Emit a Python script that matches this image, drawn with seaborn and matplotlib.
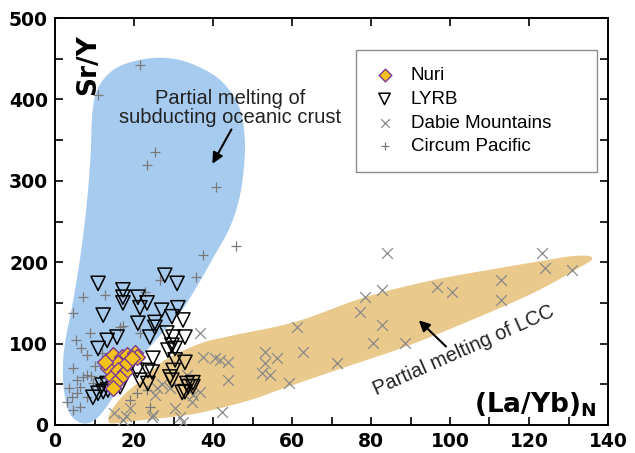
import numpy as np
import matplotlib
matplotlib.use("Agg")
import matplotlib.pyplot as plt
import seaborn as sns
from matplotlib.ticker import MultipleLocator

# Nuri samples
nuri_x = [14.7, 17.0, 18.3, 20.3, 20.8, 16.0, 13.4, 14.4, 16.0, 17.7, 16.5, 15.2, 14.7, 18.2, 19.5, 12.7]
nuri_y = [86, 84, 86, 89, 84, 76, 70, 59, 67, 65, 58, 51, 45, 76, 82, 77]

# LYRB samples
lyrb_x = [10.9, 17.2, 17.2, 17.2, 21.0, 21.5, 23.3, 27.8, 30.9, 12.2, 21.0, 27.0, 31.1, 25.3,
          29.6, 32.4, 25.3, 28.3, 29.9, 32.9, 15.7, 13.2, 24.0, 10.9, 29.6, 30.4, 28.6, 24.8,
          30.4, 32.9, 20.8, 23.5, 29.9, 21.5, 29.6, 23.5, 33.4, 32.9, 34.9, 9.6, 10.9, 12.2,
          13.4, 14.7, 13.2, 11.9, 16.5, 18.5, 24.6, 29.1, 33.7, 32.2, 34.9]
lyrb_y = [174, 166, 157, 150, 157, 144, 150, 184, 174, 135, 125, 141, 144, 126,
          133, 129, 120, 113, 108, 108, 108, 104, 108, 94, 98, 94, 92, 82,
          80, 77, 67, 67, 67, 55, 55, 51, 51, 41, 47, 34, 39, 41,
          43, 45, 51, 49, 47, 67, 65, 59, 47, 40, 52]

# Dabie Mountains samples
dabie_x = [84, 123.3, 124, 131, 113, 113, 100.5, 96.7, 82.8, 78.5, 77.2, 82.8, 80.5, 88.6,
           71.4, 61.3, 62.8, 59.2, 53.2, 56.2, 53.2, 52.4, 54.4, 43.8, 43.8, 40.5, 41.8, 37.5,
           36.7, 42.3, 36.7, 33.4, 25.8, 25.3, 30.4, 24.8, 32.4, 35, 34.7, 15, 17.2, 19, 18,
           24.6, 31.6, 27, 29]
dabie_y = [211, 211, 193, 190, 178, 153, 163, 169, 166, 157, 139, 123, 101, 101,
           76, 121, 90, 52, 90, 82, 76, 64, 61, 77, 55, 82, 80, 83,
           40, 16, 113, 61, 45, 37, 21, 12, 4, 37, 28, 15, 6, 21, 11,
           10, 10, 50, 45]

# Circum Pacific samples
cp_x = [21.5, 10.9, 25.3, 23.3, 40.8, 45.8, 37.5, 35.7, 26.6, 22.8, 12.7, 7.1, 4.6, 8.9,
        5.3, 16.5, 17.2, 21.5, 8.1, 4.6, 5.6, 7.0, 8.0, 6.3, 9.6, 4.3, 6.3, 4.6, 5.6, 8.0,
        11.4, 20.8, 23.3, 19.0, 24.0, 3.5, 10.0, 12.0, 6.5, 9.0, 3.0]
cp_y = [442, 406, 335, 319, 292, 220, 209, 182, 178, 163, 160, 157, 137, 113,
        104, 120, 122, 113, 86, 70, 55, 59, 62, 47, 51, 34, 22, 18, 39, 34,
        51, 39, 43, 31, 22, 45, 72, 88, 95, 60, 28]

# field outlines (data units)
slab_x = [7, 4, 2.5, 2, 2.5, 4.5, 6.5, 8, 9, 9.5, 11, 15, 21, 28, 35, 42, 46.5, 48, 47.8,
          46.5, 44, 40, 36.5, 32, 27.5, 23, 17.5, 13, 10]
slab_y = [2, 12, 35, 65, 100, 150, 210, 270, 330, 385, 415, 437, 448, 451, 443, 423, 392,
          355, 315, 275, 240, 205, 175, 140, 115, 90, 55, 22, 6]
lcc_x = [14.5, 20, 28, 36.7, 49, 59, 71, 88.6, 104, 121, 133, 136, 134.5, 130, 125, 112.7,
         95.7, 78.5, 61, 45, 36.7, 28, 23, 17, 14, 13.5]
lcc_y = [2, 5, 9, 15, 30, 47, 67, 96, 126, 162, 194, 204, 208, 207, 203, 193,
         178, 157, 127, 110, 100, 80, 60, 35, 15, 6]


def smooth_closed(xs, ys, n=24):
    p = np.column_stack([xs, ys]).astype(float)
    k = len(p)
    t = np.linspace(0, 1, n, endpoint=False)[:, None]
    out = []
    for i in range(k):
        p0, p1, p2, p3 = p[i - 1], p[i], p[(i + 1) % k], p[(i + 2) % k]
        out.append(0.5 * (2 * p1 + (-p0 + p2) * t + (2 * p0 - 5 * p1 + 4 * p2 - p3) * t ** 2
                          + (-p0 + 3 * p1 - 3 * p2 + p3) * t ** 3))
    return np.vstack(out)


sns.set_style("ticks")
plt.rcParams["font.family"] = ["Liberation Sans", "DejaVu Sans"]
plt.rcParams["mathtext.fontset"] = "dejavusans"
plt.rcParams["text.color"] = "black"
plt.rcParams["xtick.color"] = "black"
plt.rcParams["ytick.color"] = "black"

fig = plt.figure(figsize=(6.35, 4.53), dpi=100)
ax = fig.add_axes([55 / 635, 28 / 453, 553 / 635, 407 / 453])

slab = smooth_closed(slab_x, slab_y)
ax.fill(slab[:, 0], slab[:, 1], color="#a7cbee", lw=0, zorder=1)
lcc = smooth_closed(lcc_x, lcc_y)
ax.fill(lcc[:, 0], lcc[:, 1], color="#e9ca8c", lw=0, zorder=1.5)

sns.scatterplot(x=cp_x, y=cp_y, marker="+", s=55, color="#7a7a7a", linewidth=0.9,
                label="Circum Pacific", ax=ax, zorder=3)
sns.scatterplot(x=dabie_x, y=dabie_y, marker="x", s=60, color="#8a8a8a", linewidth=0.9,
                label="Dabie Mountains", ax=ax, zorder=3)
sns.scatterplot(x=lyrb_x, y=lyrb_y, marker="v", s=105, facecolor="none", edgecolor="black",
                linewidth=1.1, label="LYRB", ax=ax, zorder=4)
sns.scatterplot(x=nuri_x, y=nuri_y, marker="D", s=65, color="#f3c21a", edgecolor="#7b3a96",
                linewidth=1.0, label="Nuri", ax=ax, zorder=5)

ax.set_xlim(0, 140)
ax.set_ylim(0, 500)
ax.xaxis.set_major_locator(MultipleLocator(20))
ax.xaxis.set_minor_locator(MultipleLocator(10))
ax.yaxis.set_major_locator(MultipleLocator(100))
ax.yaxis.set_minor_locator(MultipleLocator(50))
ax.tick_params(which="both", direction="in", top=True, right=True, width=1.2, color="black",
               labelcolor="black")
ax.tick_params(which="major", length=6, pad=5)
ax.tick_params(which="minor", length=6)
ax.tick_params(axis="x", which="minor", top=False)
for lab in ax.get_xticklabels() + ax.get_yticklabels():
    lab.set_fontfamily("DejaVu Sans")
    lab.set_fontweight("bold")
    lab.set_fontsize(13.5)
for sp in ax.spines.values():
    sp.set_linewidth(1.4)
    sp.set_color("black")

ax.text(0.06, 0.885, "Sr/Y", transform=ax.transAxes, rotation=90, ha="center", va="center",
        fontsize=19, fontweight="bold", family="DejaVu Sans")
ax.text(0.98, 0.03, r"$\mathbf{(La/Yb)_N}$", transform=ax.transAxes, ha="right",
        va="baseline", fontsize=19)

ax.text(44.3, 390, "Partial melting of\nsubducting oceanic crust", ha="center", va="center",
        fontsize=14.5, color="#222222", linespacing=1.0)
ax.annotate("", xy=(39.5, 318), xytext=(45, 366),
            arrowprops=dict(arrowstyle="-|>", color="black", lw=1.5, mutation_scale=16))
ax.text(103.5, 92, "Partial melting of LCC", ha="center", va="center", rotation=24,
        rotation_mode="anchor", fontsize=14.5, color="#222222")
ax.annotate("", xy=(91.6, 131), xytext=(99.5, 94),
            arrowprops=dict(arrowstyle="-|>", color="black", lw=1.5, mutation_scale=16))

handles, labels = ax.get_legend_handles_labels()
order = [labels.index(n) for n in ["Nuri", "LYRB", "Dabie Mountains", "Circum Pacific"]]
leg = ax.legend([handles[i] for i in order], [labels[i] for i in order],
                loc="upper left", bbox_to_anchor=(0.545, 0.921, 0.435, 0.0), mode="expand",
                borderaxespad=0, frameon=True, fancybox=False, fontsize=13.5,
                handletextpad=0.8, labelspacing=0.35, borderpad=0.9, handlelength=1.2,
                markerscale=0.8)
leg.get_frame().set_edgecolor("#707070")
leg.get_frame().set_linewidth(1.0)

fig.savefig("out.png", dpi=100)
